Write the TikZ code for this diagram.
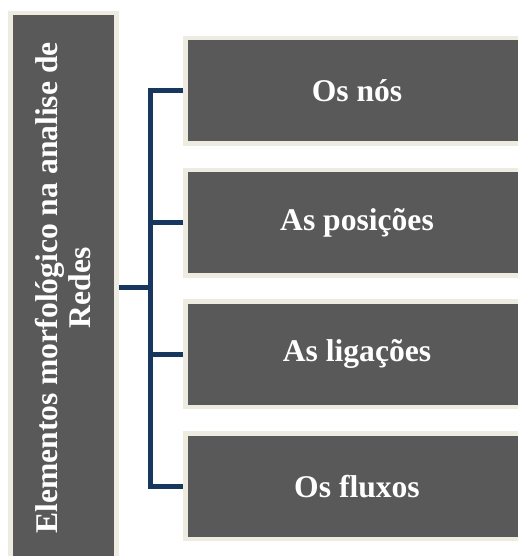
\documentclass[tikz,border=0pt]{standalone}
\usepackage{fontspec}
\setmainfont{Liberation Serif}
\usetikzlibrary{positioning}
\definecolor{boxgray}{HTML}{595959}
\definecolor{boxrim}{HTML}{EEECE1}
\definecolor{busblue}{HTML}{17375E}
\tikzset{
  cell/.style={draw=boxrim, line width=4.5pt, fill=boxgray, text=white, inner sep=0,
    font=\bfseries\fontsize{31.6pt}{33pt}\selectfont, align=center},
  item/.style={cell, minimum width=343pt, minimum height=105.5pt},
  bus/.style={draw=busblue, line width=5pt},
}
\begin{document}
\begin{tikzpicture}[x=1pt, y=1pt]
\path[use as bounding box, clip] (0,0) rectangle (518,556);
% left box, turned on its side
\node[cell, rotate=90, minimum width=550pt, minimum height=106pt] (root) at (63.5,268)
  {Elementos morfológico na analise de\\Redes};
% the four items
\node[item] (nos) at (357,465) {Os nós};
\node[item, below=21.7pt of nos] (posicoes) {As posições};
\node[item, below=21.7pt of posicoes] (ligacoes) {As ligações};
\node[item, below=21.7pt of ligacoes] (fluxos) {Os fluxos};

\coordinate (spine) at ([xshift=32pt]root.south);
\draw[bus] (nos.west) -| (spine) |- (fluxos.west);
\draw[bus] (root.south) -- (spine);
\foreach \n in {posicoes,ligacoes} {
  \draw[bus] (\n.west) -- (\n.west -| spine);
}
\end{tikzpicture}
\end{document}
